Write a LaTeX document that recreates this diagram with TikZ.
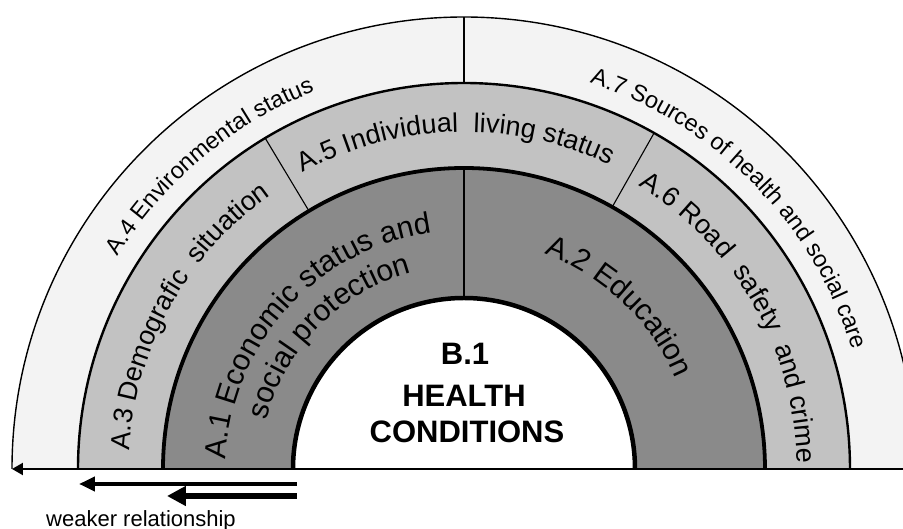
\documentclass[tikz,border=0pt]{standalone}
\usepackage{fontspec}
\setmainfont{Liberation Sans}
\usetikzlibrary{decorations.text,arrows.meta}
\definecolor{ringO}{RGB}{243,243,243}
\definecolor{ringL}{RGB}{194,194,194}
\definecolor{ringD}{RGB}{138,138,138}
\newcommand\fsO{\fontsize{23.5}{28}\selectfont}
\newcommand\fsL{\fontsize{27}{32}\selectfont}
\newcommand\fsD{\fontsize{30}{36}\selectfont}
\newcommand\ringtext[4]{%
  \path[decorate,decoration={text along path,text align=center,text={|#3|#4}}]
    (#1+60:#2) arc[start angle=#1+60,end angle=#1-60,radius=#2];}
\begin{document}
\begin{tikzpicture}[x=1pt,y=1pt,
  ctext/.style={anchor=base,font=\bfseries\fontsize{31}{36}\selectfont},
  ringedge/.style={draw=black},
  divider/.style={draw=black}]
\useasboundingbox (-464,-60) rectangle (439,469);
\clip (-464,-60) rectangle (439,469);
% fills
\fill[ringO] (-452,0) arc[start angle=180,end angle=0,radius=452] -- cycle;
\fill[ringL] (-386,0) arc[start angle=180,end angle=0,radius=386] -- cycle;
\fill[ringD] (-301,0) arc[start angle=180,end angle=0,radius=301] -- cycle;
\fill[white] (-171,0) arc[start angle=180,end angle=0,radius=171] -- cycle;
% dividers
\draw[divider,line width=1.4pt] (90:386) -- (90:452);
\draw[divider,line width=1.1pt] (121:301) -- (121:386);
\draw[divider,line width=1.1pt] (60.5:301) -- (60.5:386);
\draw[divider,line width=2.2pt] (90:171) -- (90:301);
% ring edges
\draw[ringedge,line width=1.4pt] (-452,0) arc[start angle=180,end angle=0,radius=452];
\draw[ringedge,line width=2.4pt] (-386,0) arc[start angle=180,end angle=0,radius=386];
\draw[ringedge,line width=3.8pt] (-301,0) arc[start angle=180,end angle=0,radius=301];
\draw[ringedge,line width=4.5pt] (-171,0) arc[start angle=180,end angle=0,radius=171];
% base line and arrows
\coordinate (baseR) at (439,0);
\coordinate (baseL) at (-452,0);
\draw[line width=2.2pt,-{Triangle[length=11pt,width=12pt]}] (baseR) -- (baseL);
\coordinate (a1s) at (-167,-15);
\coordinate (a1e) at (-385,-15);
\draw[line width=4.8pt,-{Triangle[length=16pt,width=14pt]}] (a1s) -- (a1e);
\coordinate (a2s) at (-167,-27);
\coordinate (a2e) at (-297,-27);
\draw[line width=6.8pt,-{Triangle[length=19pt,width=19pt]}] (a2s) -- (a2e);
\node[anchor=base,font=\fontsize{22}{26}\selectfont] (weak) at (-323,-58) {weaker relationship};
% curved texts
\ringtext{130}{406}{\fsO}{A.4 Environmental status}
\ringtext{44.5}{406}{\fsO}{A.7 Sources of health and social care}
\ringtext{151}{335}{\fsL}{A.3 Demografic {\ }situation}
\ringtext{91.5}{337}{\fsL}{A.5 Individual {\ }living status}
\ringtext{29.7}{333}{\fsL}{A.6 Road {\ }safety {\ }and crime}
\ringtext{137.7}{238}{\fsD}{A.1 Economic status and}
\ringtext{135.5}{203}{\fsD}{social protection}
\ringtext{46.4}{230}{\fsD}{A.2 Education}
% centre
\node[ctext] (b1) at (1,104) {B.1};
\node[ctext] (health) at (0,62) {HEALTH};
\node[ctext] (cond) at (3,26) {CONDITIONS};
\end{tikzpicture}
\end{document}
